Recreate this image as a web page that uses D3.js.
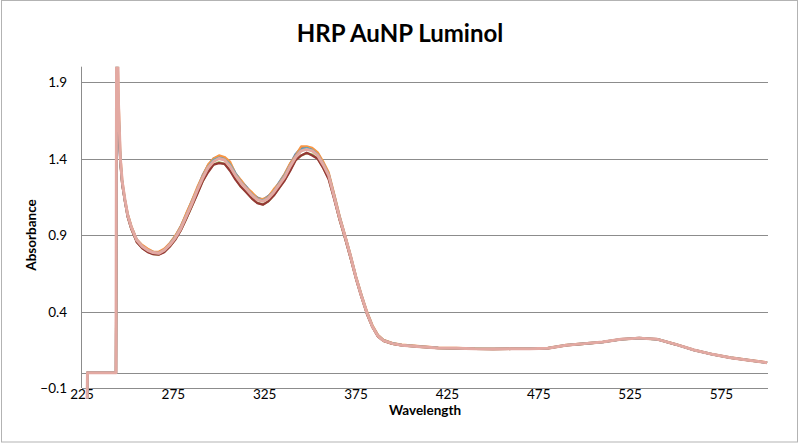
<!DOCTYPE html>
<html><head><meta charset="utf-8">
<script src="https://cdn.jsdelivr.net/npm/d3@7"></script>
<style>body{margin:0;background:#fff}svg{display:block}</style>
</head><body>
<svg id="c" width="800" height="443"></svg>
<script>
const wavelengths = [
  227.8, 228, 235, 243.6, 244, 245, 246, 247, 248.5, 250,
  252, 255, 258, 261, 264, 267, 270, 273, 276, 279,
  282, 285, 288, 291, 294, 297, 300, 303, 306, 309,
  312, 315, 318, 321, 324, 327, 330, 333, 336, 339,
  342, 345, 348, 351, 354, 357, 360, 363, 366, 369,
  372, 375, 378, 381, 384, 387, 390, 395, 400, 410,
  420, 430, 440, 450, 460, 470, 480, 490, 500, 510,
  520, 530, 540, 550, 560, 570, 580, 590, 600];

const seriesBlue = [
  -0.17, 0, 0, 0, 1.70, 1.55, 1.38, 1.24, 1.125, 1.035,
  0.955, 0.87, 0.83, 0.805, 0.79, 0.785, 0.805, 0.845, 0.89, 0.955,
  1.035, 1.12, 1.20, 1.29, 1.355, 1.40, 1.415, 1.40, 1.37, 1.305,
  1.255, 1.215, 1.17, 1.145, 1.13, 1.155, 1.19, 1.245, 1.30, 1.365,
  1.43, 1.47, 1.475, 1.465, 1.435, 1.37, 1.30, 1.165, 1.02, 0.895,
  0.765, 0.625, 0.505, 0.395, 0.305, 0.245, 0.213, 0.192, 0.182, 0.172,
  0.163, 0.161, 0.157, 0.156, 0.157, 0.158, 0.161, 0.181, 0.191, 0.201,
  0.219, 0.227, 0.219, 0.186, 0.149, 0.121, 0.099, 0.083, 0.066];

const seriesOrange = [
  -0.17, 0, 0, 0, 2.3, 1.80, 1.42, 1.26, 1.135, 1.04,
  0.96, 0.87, 0.835, 0.81, 0.79, 0.79, 0.81, 0.845, 0.895, 0.955,
  1.04, 1.12, 1.21, 1.285, 1.36, 1.40, 1.42, 1.41, 1.38, 1.30,
  1.26, 1.21, 1.18, 1.14, 1.135, 1.15, 1.20, 1.24, 1.30, 1.37,
  1.42, 1.48, 1.48, 1.47, 1.44, 1.38, 1.31, 1.17, 1.025, 0.90,
  0.77, 0.63, 0.51, 0.40, 0.31, 0.248, 0.215, 0.194, 0.183, 0.173,
  0.164, 0.162, 0.158, 0.157, 0.158, 0.159, 0.162, 0.182, 0.192, 0.202,
  0.22, 0.228, 0.22, 0.187, 0.15, 0.122, 0.1, 0.084, 0.067];

const seriesGreen = [
  -0.17, 0, 0, 0, 1.9, 1.70, 1.38, 1.235, 1.12, 1.02,
  0.94, 0.855, 0.815, 0.79, 0.775, 0.772, 0.79, 0.825, 0.87, 0.93,
  1.005, 1.085, 1.17, 1.25, 1.315, 1.36, 1.375, 1.365, 1.325, 1.27,
  1.215, 1.18, 1.14, 1.11, 1.10, 1.12, 1.16, 1.21, 1.26, 1.325,
  1.39, 1.42, 1.435, 1.425, 1.40, 1.34, 1.27, 1.14, 1.00, 0.88,
  0.75, 0.615, 0.495, 0.385, 0.297, 0.237, 0.208, 0.188, 0.178, 0.168,
  0.16, 0.158, 0.155, 0.154, 0.155, 0.156, 0.159, 0.179, 0.189, 0.199,
  0.217, 0.225, 0.217, 0.184, 0.147, 0.119, 0.097, 0.081, 0.064];

const seriesDarkRed = [
  -0.17, 0, 0, 0, 1.85, 1.68, 1.37, 1.23, 1.118, 1.018,
  0.938, 0.853, 0.813, 0.788, 0.775, 0.771, 0.788, 0.823, 0.868, 0.928,
  1.005, 1.085, 1.165, 1.25, 1.31, 1.36, 1.37, 1.365, 1.32, 1.262,
  1.215, 1.178, 1.138, 1.108, 1.098, 1.12, 1.158, 1.208, 1.258, 1.32,
  1.39, 1.42, 1.438, 1.42, 1.398, 1.338, 1.265, 1.135, 0.998, 0.878,
  0.748, 0.612, 0.492, 0.382, 0.297, 0.236, 0.208, 0.188, 0.178, 0.169,
  0.161, 0.159, 0.155, 0.154, 0.155, 0.156, 0.159, 0.179, 0.189, 0.199,
  0.217, 0.226, 0.217, 0.184, 0.147, 0.119, 0.097, 0.081, 0.064];

const seriesAqua = [
  -0.17, 0, 0, 0, 2.1, 1.72, 1.39, 1.245, 1.128, 1.03,
  0.95, 0.865, 0.825, 0.80, 0.785, 0.782, 0.80, 0.838, 0.885, 0.945,
  1.025, 1.105, 1.195, 1.275, 1.345, 1.39, 1.405, 1.395, 1.36, 1.30,
  1.245, 1.205, 1.165, 1.135, 1.125, 1.145, 1.185, 1.235, 1.29, 1.355,
  1.415, 1.455, 1.468, 1.455, 1.425, 1.365, 1.295, 1.155, 1.015, 0.892,
  0.762, 0.622, 0.502, 0.392, 0.302, 0.242, 0.211, 0.191, 0.181, 0.171,
  0.162, 0.16, 0.156, 0.155, 0.156, 0.157, 0.16, 0.18, 0.19, 0.2,
  0.218, 0.226, 0.218, 0.185, 0.148, 0.12, 0.098, 0.082, 0.065];

const seriesPink = [
  -0.17, 0, 0, 0, 2.6, 1.75, 1.40, 1.25, 1.13, 1.03,
  0.95, 0.865, 0.825, 0.80, 0.785, 0.78, 0.80, 0.835, 0.88, 0.94,
  1.02, 1.10, 1.19, 1.27, 1.34, 1.38, 1.40, 1.39, 1.35, 1.29,
  1.24, 1.20, 1.16, 1.13, 1.12, 1.14, 1.18, 1.23, 1.28, 1.35,
  1.41, 1.45, 1.46, 1.45, 1.42, 1.36, 1.29, 1.15, 1.01, 0.89,
  0.76, 0.62, 0.50, 0.39, 0.30, 0.24, 0.21, 0.19, 0.18, 0.17,
  0.162, 0.16, 0.156, 0.155, 0.156, 0.157, 0.16, 0.18, 0.19, 0.20,
  0.218, 0.226, 0.218, 0.185, 0.148, 0.12, 0.098, 0.082, 0.065];

const seriesList = [seriesBlue, seriesOrange, seriesGreen, seriesDarkRed, seriesAqua, seriesPink];
const seriesColors = ["#4F81BD", "#F79646", "#9BBB59", "#953735", "#4BACC6", "#E3A9A2"];

const xTicks = [225, 275, 325, 375, 425, 475, 525, 575];
const yTicks = [-0.1, 0.4, 0.9, 1.4, 1.9];

const svg = d3.select("#c");
const L = 82, R = 768, T = 66.7, B = 388;
const x = d3.scaleLinear().domain([225, 600.5]).range([L, R]);
const y = d3.scaleLinear().domain([-0.1, 2.0]).range([B, T]);
const font = "Lato, 'Open Sans', sans-serif";

// chart border
svg.append("rect").attr("x", 1.5).attr("y", 0.5).attr("width", 796).attr("height", 441.5)
  .attr("fill", "none").attr("stroke", "#b3b3b3").attr("stroke-width", 1);

// gridlines
svg.append("g").selectAll("line").data(yTicks).join("line")
  .attr("x1", L).attr("x2", R)
  .attr("y1", d => Math.round(y(d)) + 0.5).attr("y2", d => Math.round(y(d)) + 0.5)
  .attr("stroke", "#8c8c8c").attr("stroke-width", 1);

// horizontal axis line at zero
svg.append("line").attr("x1", L).attr("x2", R)
  .attr("y1", Math.round(y(0)) + 0.5).attr("y2", Math.round(y(0)) + 0.5)
  .attr("stroke", "#8c8c8c").attr("stroke-width", 1);

// vertical axis line
svg.append("line").attr("x1", L - 0.5).attr("x2", L - 0.5).attr("y1", T).attr("y2", B)
  .attr("stroke", "#8c8c8c").attr("stroke-width", 1);

// y tick labels
svg.append("g").selectAll("text").data(yTicks).join("text")
  .attr("x", 67).attr("y", d => y(d) + 5)
  .attr("text-anchor", "end").attr("font-family", font).attr("font-size", 13.5)
  .attr("fill", "#000").text(d => d3.format(".1f")(d));

// x tick labels
svg.append("g").selectAll("text").data(xTicks).join("text")
  .attr("x", d => x(d)).attr("y", 399)
  .attr("text-anchor", "middle").attr("font-family", font).attr("font-size", 13.5)
  .attr("fill", "#000").text(d => d);

// clip (top only)
svg.append("clipPath").attr("id", "clip").append("rect")
  .attr("x", L).attr("y", T).attr("width", R - L + 2).attr("height", 360);

const line = d3.line().x((d, i) => x(wavelengths[i])).y(d => y(d));
svg.append("g").attr("clip-path", "url(#clip)")
  .selectAll("path").data(seriesList).join("path")
  .attr("d", d => line(d)).attr("fill", "none")
  .attr("stroke", (d, i) => seriesColors[i])
  .attr("stroke-width", (d, i) => i === seriesList.length - 1 ? 3 : 2.25)
  .attr("stroke-linejoin", "round");

// titles
svg.append("text").attr("x", 400).attr("y", 42).attr("text-anchor", "middle")
  .attr("font-family", font).attr("font-weight", "bold").attr("font-size", 24)
  .text("HRP AuNP Luminol");
svg.append("text").attr("x", 425).attr("y", 415).attr("text-anchor", "middle")
  .attr("font-family", font).attr("font-weight", "bold").attr("font-size", 13.5)
  .text("Wavelength");
svg.append("text").attr("transform", "translate(36,235) rotate(-90)").attr("text-anchor", "middle")
  .attr("font-family", font).attr("font-weight", "bold").attr("font-size", 13.5)
  .text("Absorbance");
</script>
</body></html>
